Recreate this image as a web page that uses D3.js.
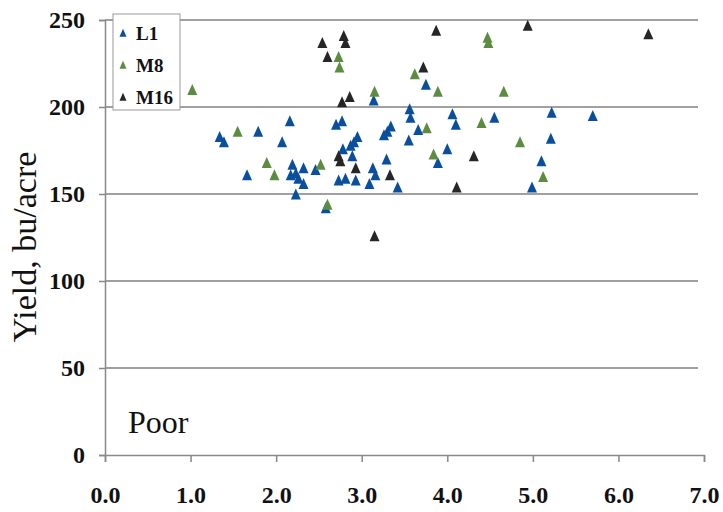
<!DOCTYPE html>
<html>
<head>
<meta charset="utf-8">
<title>Yield vs. rate - Poor</title>
<style>
body { margin: 0; background: #fff; }
text { font-family: "Liberation Serif", "Times New Roman", serif; fill: #111; }
.tick text { font-family: "Liberation Serif", serif; font-weight: bold; font-size: 24px; }
.axis path, .axis line { stroke: #888; stroke-width: 1.5px; }
.grid line { stroke: #a0a0a0; stroke-width: 2px; }
</style>
</head>
<body>
<script src="https://cdn.jsdelivr.net/npm/d3@7"></script>
<script>

// values
var l1X = [1.34, 1.39, 1.66, 1.79, 2.07, 2.16, 2.19, 2.17, 2.23, 2.32, 2.26, 2.32, 2.23, 2.46, 2.58,
           2.70, 2.77, 2.78, 2.87, 2.91, 2.95, 2.89, 2.73, 2.81, 2.93, 3.09, 3.13, 3.16, 3.14,
           3.26, 3.30, 3.34, 3.29, 3.42, 3.55, 3.56, 3.57, 3.66, 3.75, 3.89, 4.00, 4.06, 4.10,
           4.55, 4.99, 5.10, 5.21, 5.22, 5.70];
var l1Y = [182, 179, 160, 185, 179, 191, 166, 160, 161, 164, 158, 155, 149, 163, 141,
           189, 191, 175, 177, 179, 182, 171, 157, 158, 157, 155, 164, 160, 203,
           183, 185, 188, 169, 153, 180, 198, 193, 186, 212, 167, 175, 195, 189,
           193, 153, 168, 181, 196, 194];

var m8X = [1.02, 1.55, 1.89, 1.98, 2.52, 2.60, 2.73, 2.74, 3.15, 3.62, 3.76, 3.84, 3.89,
           4.40, 4.47, 4.48, 4.66, 4.85, 5.12];
var m8Y = [209, 185, 167, 160, 166, 143, 228, 222, 208, 218, 187, 172, 208,
           190, 239, 236, 208, 179, 159];

var m16X = [2.54, 2.60, 2.79, 2.81, 2.77, 2.86, 2.73, 2.75, 2.93, 3.15, 3.33, 3.72, 3.87,
            4.11, 4.31, 4.94, 6.35];
var m16Y = [236, 228, 240, 236, 202, 205, 171, 168, 164, 125, 160, 222, 243,
            153, 171, 246, 241];

var seriesNames = ["L1", "M8", "M16"];
var seriesColors = ["#0a4f9e", "#5c8c40", "#262626"];
var xTicks = [0, 1, 2, 3, 4, 5, 6, 7];
var yTicks = [0, 50, 100, 150, 200, 250];

var width = 723,
    height = 512;

var x = d3.scaleLinear().domain([0, 7]).range([105, 704]);
var y = d3.scaleLinear().domain([0, 250]).range([455, 20]);

var svg = d3.select("body").append("svg")
    .attr("width", width)
    .attr("height", height);

// horizontal grid
svg.append("g")
    .attr("class", "grid")
    .selectAll("line")
    .data(yTicks.filter(function(d) { return d > 0; }))
    .enter().append("line")
    .attr("x1", x(0))
    .attr("x2", x(7) - 6)
    .attr("y1", function(d) { return y(d); })
    .attr("y2", function(d) { return y(d); });

svg.append("g")
    .attr("class", "axis")
    .attr("transform", "translate(0," + y(0) + ")")
    .call(d3.axisBottom(x).tickValues(xTicks).tickSizeOuter(0).tickSize(7).tickPadding(24)
        .tickFormat(d3.format(".1f")))
    .attr("font-family", "Liberation Serif");

svg.append("g")
    .attr("class", "axis")
    .attr("transform", "translate(" + x(0) + ",0)")
    .call(d3.axisLeft(y).tickValues(yTicks).tickSizeOuter(0).tickSize(6).tickPadding(14))
    .attr("font-family", "Liberation Serif");

// triangle marker, w wide and h tall, centred on the point
function tri(w, h) {
  return "M0," + (-h * 2 / 3) + "L" + (w / 2) + "," + (h / 3) + "L" + (-w / 2) + "," + (h / 3) + "Z";
}

var series = [
  {x: l1X, y: l1Y},
  {x: m8X, y: m8Y},
  {x: m16X, y: m16Y}
];

series.forEach(function(s, i) {
  var pts = s.x.map(function(v, j) { return [v, s.y[j]]; });
  svg.append("g")
      .selectAll("path")
      .data(pts)
      .enter().append("path")
      .attr("d", tri(10, 11))
      .attr("fill", seriesColors[i])
      .attr("transform", function(d) {
          return "translate(" + x(d[0]) + "," + y(d[1]) + ")";
      });
});

// y title
svg.append("text")
    .attr("transform", "translate(36,247) rotate(-90)")
    .attr("text-anchor", "middle")
    .style("font-size", "34px")
    .text("Yield, bu/acre");

svg.append("text")
    .attr("x", 128)
    .attr("y", 433)
    .style("font-size", "32px")
    .text("Poor");

// legend
var legend = svg.append("g");
legend.append("rect")
    .attr("x", 113)
    .attr("y", 14)
    .attr("width", 67)
    .attr("height", 96)
    .attr("fill", "#fff")
    .attr("stroke", "#999")
    .attr("stroke-width", 1);

var item = legend.selectAll(".item")
    .data(seriesNames)
    .enter().append("g")
    .attr("class", "item")
    .attr("transform", function(d, i) { return "translate(123," + (34 + i * 32) + ")"; });

item.append("path")
    .attr("d", tri(7, 8))
    .attr("fill", function(d, i) { return seriesColors[i]; });

item.append("text")
    .attr("x", 13)
    .attr("y", 6)
    .style("font-size", "19px")
    .style("font-weight", "bold")
    .text(function(d) { return d; });

</script>
</body>
</html>
